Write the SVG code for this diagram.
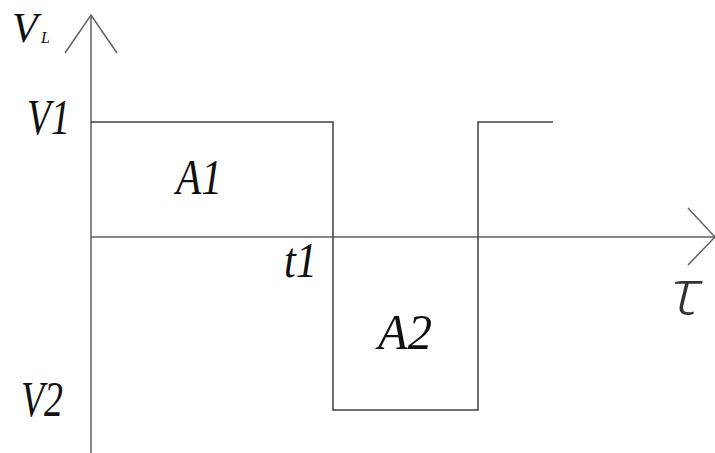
<svg xmlns="http://www.w3.org/2000/svg" width="715" height="453" viewBox="0 0 715 453">
<style>
.ax{stroke:#606060;stroke-width:1.5;fill:none}
.wv{stroke:#404040;stroke-width:1.5;fill:none}
.lb{font-family:"Liberation Serif","DejaVu Serif",serif;font-style:italic;fill:#111}
.tau{font-family:"Open Sans","Noto Sans","DejaVu Sans",sans-serif;font-weight:300;font-style:italic;fill:#333}
</style>
<rect width="715" height="453" fill="#fff"/>
<g id="connectors">
<line class="ax" x1="91" y1="15" x2="91" y2="453"/>
<polyline class="ax" points="65,53 91,15 117,53"/>
<line class="ax" x1="91" y1="237" x2="715" y2="237"/>
<polyline class="ax" points="688,208 715,237 688,265"/>
<polyline class="wv" points="91,122 333,122 333,410 478,410 478,122 553,122"/>
</g>
<g id="label-VL">
<text class="lb" x="12" y="42" font-size="42">V</text>
<text class="lb" x="41" y="43" font-size="16">L</text>
</g>
<g id="label-V1"><text class="lb" x="27" y="134" font-size="50" textLength="43" lengthAdjust="spacingAndGlyphs">V1</text></g>
<g id="label-A1"><text class="lb" x="176" y="194" font-size="50" textLength="46" lengthAdjust="spacingAndGlyphs">A1</text></g>
<g id="label-t1"><text class="lb" x="284" y="277" font-size="50" textLength="33" lengthAdjust="spacingAndGlyphs">t1</text></g>
<g id="label-A2"><text class="lb" x="378" y="349" font-size="50" textLength="54" lengthAdjust="spacingAndGlyphs">A2</text></g>
<g id="label-V2"><text class="lb" x="21" y="416" font-size="50" textLength="42" lengthAdjust="spacingAndGlyphs">V2</text></g>
<g id="label-tau"><text class="tau" x="671" y="314" font-size="62" textLength="30" lengthAdjust="spacingAndGlyphs">τ</text></g>
</svg>
